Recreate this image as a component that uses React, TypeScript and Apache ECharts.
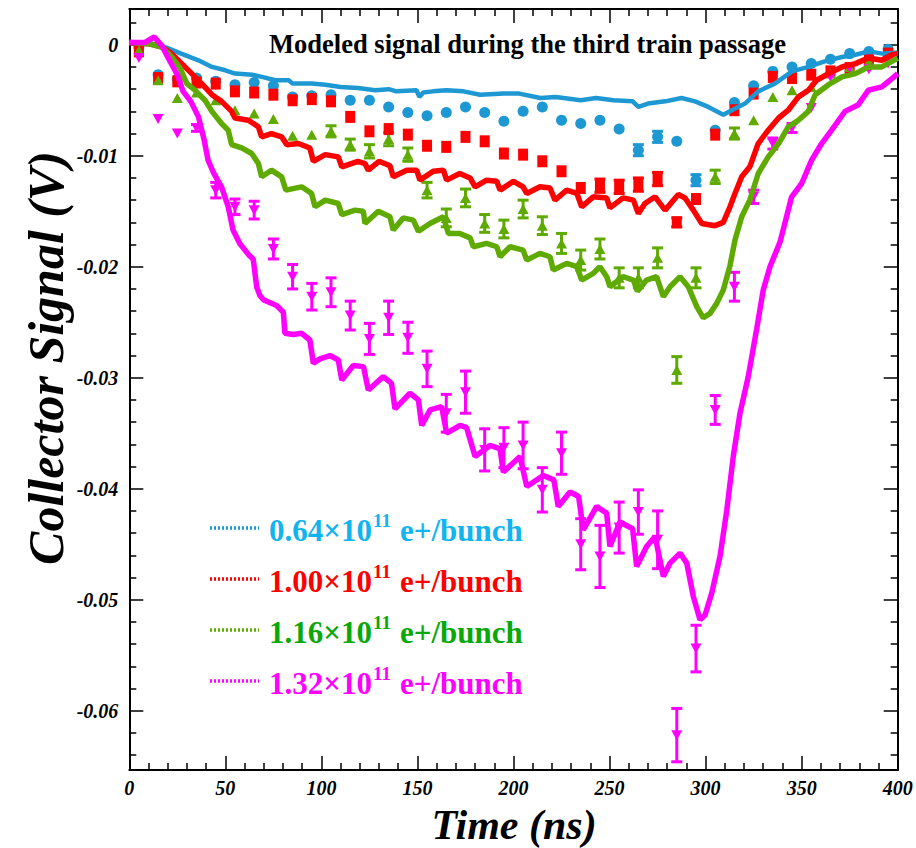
import React, { useEffect, useRef } from 'react';
import * as echarts from 'echarts';

// ---------- data ----------
const markerTimes = [5, 15, 25, 35, 45, 55, 65, 75, 85, 95, 105, 115, 125, 135, 145, 155, 165, 175, 185, 195,
  205, 215, 225, 235, 245, 255, 265, 275, 285, 295, 305, 315, 325, 335, 345, 355, 365, 375, 385, 395];

const blueMarkers = [-0.0002, -0.0027, -0.0031, -0.0030, -0.0033, -0.0036, -0.0034, -0.0037, -0.0047, -0.0046,
  -0.0045, -0.0050, -0.0050, -0.0056, -0.0061, -0.0064, -0.0061, -0.0056, -0.0061, -0.0069,
  -0.0060, -0.0056, -0.0068, -0.0071, -0.0068, -0.0076, -0.0095, -0.0083, -0.0087, -0.0122,
  -0.0077, -0.0052, -0.0037, -0.0024, -0.0020, -0.0017, -0.0013, -0.0008, -0.0006, -0.0004];
const blueErrors = [0, 0, 0, 0, 0, 0, 0, 0, 0, 0, 0, 0, 0, 0, 0, 0, 0, 0, 0, 0,
  0, 0, 0, 0, 0, 0, 0.0005, 0.0005, 0, 0.0005, 0, 0, 0, 0, 0, 0, 0, 0, 0, 0];

const redMarkers = [-0.0006, -0.0030, -0.0033, -0.0034, -0.0035, -0.0042, -0.0043, -0.0045, -0.0050, -0.0049,
  -0.0051, -0.0065, -0.0078, -0.0076, -0.0081, -0.0091, -0.0092, -0.0083, -0.0087, -0.0098,
  -0.0099, -0.0105, -0.0114, -0.0129, -0.0127, -0.0128, -0.0126, -0.0121, -0.0160, -0.0139,
  -0.0081, -0.0059, -0.0044, -0.0029, -0.0030, -0.0027, -0.0024, -0.0021, -0.0014, -0.0008];
const redErrors = [0, 0, 0, 0, 0, 0, 0, 0, 0, 0, 0, 0, 0, 0, 0, 0, 0, 0, 0, 0,
  0, 0, 0, 0, 0.0006, 0.0006, 0.0006, 0.0006, 0.0004, 0, 0, 0, 0, 0, 0, 0, 0, 0, 0, 0];

const greenMarkers = [-0.0005, -0.0032, -0.0048, -0.0043, -0.0050, -0.0059, -0.0062, -0.0067, -0.0082, -0.0081,
  -0.0078, -0.0090, -0.0096, -0.0085, -0.0099, -0.0131, -0.0156, -0.0138, -0.0161, -0.0166,
  -0.0148, -0.0163, -0.0179, -0.0194, -0.0184, -0.0210, -0.0210, -0.0192, -0.0293, -0.0210,
  -0.0119, -0.0080, -0.0068, -0.0047, -0.0041, -0.0038, -0.0026, -0.0020, -0.0015, -0.0011];
const greenErrors = [0, 0, 0, 0, 0, 0, 0, 0, 0, 0,
  0.0005, 0.0005, 0.0006, 0.0006, 0.0006, 0.0007, 0.0008, 0.0008, 0.0008, 0.0008,
  0.0008, 0.0008, 0.0009, 0.0009, 0.0009, 0.0009, 0.0009, 0.0009, 0.0012, 0.0009,
  0.0006, 0.0005, 0, 0, 0, 0, 0, 0, 0, 0];

const magentaMarkers = [-0.0012, -0.0067, -0.0080, -0.0075, -0.0131, -0.0146, -0.0149, -0.0184, -0.0209, -0.0227,
  -0.0223, -0.0244, -0.0265, -0.0246, -0.0264, -0.0292, -0.0332, -0.0313, -0.0365, -0.0363,
  -0.0361, -0.0401, -0.0368, -0.0450, -0.0461, -0.0435, -0.0421, -0.0446, -0.0622, -0.0544,
  -0.0329, -0.0218, -0.0137, -0.0089, -0.0075, -0.0057, -0.0029, -0.0021, -0.0022, -0.0017];
const magentaErrors = [0, 0, 0, 0.0003, 0.0007, 0.0007, 0.0008, 0.0009, 0.0011, 0.0012,
  0.0013, 0.0013, 0.0014, 0.0015, 0.0014, 0.0016, 0.0017, 0.0019, 0.0019, 0.0018,
  0.0021, 0.0020, 0.0019, 0.0023, 0.0028, 0.0023, 0.0020, 0.0026, 0.0024, 0.0021,
  0.0013, 0.0013, 0.0006, 0.0005, 0.0004, 0, 0, 0, 0, 0];

const blueLine = [[0, 0.0002], [8, 0.0002], [15, 0.0000], [20, -0.0003], [27, -0.0008], [36, -0.0014], [43, -0.0020],
  [50, -0.0023], [55, -0.0026], [64, -0.0027], [69, -0.0029], [76, -0.0032], [83, -0.0032], [85, -0.0035],
  [95, -0.0035], [102, -0.0036], [110, -0.0038], [119, -0.0039], [128, -0.0041], [135, -0.0040], [139, -0.0042],
  [149.5, -0.0041], [151, -0.0047], [153, -0.0043], [158, -0.0042], [165, -0.0041], [174, -0.0042],
  [182.6, -0.0045], [195, -0.0044], [203, -0.0044], [214, -0.0048], [222, -0.0047], [235, -0.0050],
  [243, -0.0048], [252, -0.0050], [262, -0.0051], [265, -0.0056], [270, -0.0053], [279, -0.0051],
  [287.5, -0.0048], [294.5, -0.0051], [301.4, -0.0056], [309.2, -0.0063], [313.6, -0.0059], [320.5, -0.0053],
  [327.4, -0.0042], [336, -0.0035], [345, -0.0024], [353.5, -0.0020], [362, -0.0015], [371, -0.0011],
  [378, -0.0009], [385, -0.0006], [392, -0.0008], [400, -0.0007]];

const redLine = [[0, 0.0002], [10, 0.0001], [17, -0.0002], [22, -0.0008], [27.3, -0.0017], [32.5, -0.0026],
  [37.7, -0.0035], [43, -0.0045], [48, -0.0051], [53.3, -0.0060], [55, -0.0066], [62, -0.0068], [67.2, -0.0074],
  [68.9, -0.0083], [74, -0.0080], [79.3, -0.0083], [82, -0.0090], [88, -0.0089], [94, -0.0093], [95.8, -0.0105],
  [102, -0.0099], [108.8, -0.0101], [110.6, -0.0110], [119, -0.0105], [122.7, -0.0107], [124.4, -0.0113],
  [130, -0.0105], [135.7, -0.0109], [137.4, -0.0119], [144.4, -0.0113], [149.6, -0.0113], [151.3, -0.0122],
  [158.2, -0.0114], [163.5, -0.0113], [165.2, -0.0122], [172, -0.0116], [177.4, -0.0120], [180, -0.0128],
  [186, -0.0122], [191.3, -0.0123], [193, -0.0131], [200, -0.0123], [205, -0.0128], [206.9, -0.0134],
  [213.8, -0.0128], [219, -0.0129], [221.6, -0.0140], [227.7, -0.0131], [233, -0.0134], [235.5, -0.0146],
  [241.5, -0.0137], [248.5, -0.0138], [250.2, -0.0147], [257, -0.0138], [262.4, -0.0140], [265, -0.0152],
  [268.4, -0.0143], [273.7, -0.0137], [278.9, -0.0149], [285.8, -0.0135], [289.3, -0.0138], [293.6, -0.0149],
  [298, -0.0161], [304.9, -0.0163], [309.2, -0.0160], [312.7, -0.0146], [315.3, -0.0134], [318.8, -0.0119],
  [323, -0.0110], [327.4, -0.0089], [332.6, -0.0077], [338, -0.0066], [343, -0.0059], [348.3, -0.0047],
  [353.5, -0.0041], [357.8, -0.0032], [364, -0.0026], [371, -0.0020], [378, -0.0017], [384.7, -0.0012],
  [391.7, -0.0014], [397, -0.0009], [400, -0.0008]];

const greenLine = [[0, 0.0002], [10, 0.0001], [17, -0.0002], [22, -0.0011], [26.4, -0.0021], [30, -0.0035],
  [34.2, -0.0041], [39.4, -0.0050], [43, -0.0060], [48, -0.0071], [51.5, -0.0077], [53.3, -0.0090],
  [58.5, -0.0093], [63.7, -0.0098], [67.2, -0.0107], [68.9, -0.0119], [74, -0.0113], [79.3, -0.0119],
  [81.5, -0.0131], [89.7, -0.0128], [94.9, -0.0134], [96.7, -0.0146], [102, -0.0140], [108.8, -0.0143],
  [110.6, -0.0153], [117.5, -0.0149], [121.8, -0.0150], [122.7, -0.0161], [129.6, -0.0150], [135.7, -0.0155],
  [137.4, -0.0167], [142.6, -0.0156], [147.8, -0.0158], [150.5, -0.0168], [156.5, -0.0161], [163.5, -0.0155],
  [166.1, -0.0170], [172, -0.0170], [177.4, -0.0174], [179.1, -0.0182], [186, -0.0179], [191.3, -0.0182],
  [193, -0.0191], [198.2, -0.0182], [205, -0.0185], [206.9, -0.0194], [213.8, -0.0188], [219, -0.0191],
  [220.7, -0.0203], [227.7, -0.0197], [233, -0.0200], [235.5, -0.0212], [241.5, -0.0206], [245, -0.0200],
  [248.5, -0.0209], [250.2, -0.0218], [257, -0.0209], [262.4, -0.0212], [264.5, -0.0222], [269.3, -0.0212],
  [274.5, -0.0209], [278, -0.0227], [281.5, -0.0218], [286.7, -0.0209], [291, -0.0218], [295.4, -0.0236],
  [298.8, -0.0246], [302.3, -0.0242], [305.8, -0.0233], [309.2, -0.0221], [312.7, -0.0199], [315.3, -0.0176],
  [318.8, -0.0155], [323, -0.0140], [327.4, -0.0116], [332.6, -0.0101], [338, -0.0089], [343, -0.0074],
  [348.3, -0.0068], [353.5, -0.0060], [357, -0.0045], [364, -0.0036], [371, -0.0029], [378, -0.0026],
  [384.7, -0.0020], [391.7, -0.0020], [397, -0.0015], [400, -0.0012]];

const magentaLine = [[0, 0.0002], [8, 0.0002], [13, 0.0007], [17, -0.0001], [20, -0.0011], [25, -0.0027],
  [28, -0.0042], [32, -0.0051], [36, -0.0065], [39, -0.0086], [41, -0.0104], [44, -0.0116], [48, -0.0128],
  [51.5, -0.0146], [54, -0.0167], [57.5, -0.0179], [62.5, -0.0190], [64.5, -0.0193], [66.3, -0.0218],
  [68, -0.0226], [70, -0.0230], [76.7, -0.0235], [80.2, -0.0241], [81, -0.0260], [85.4, -0.0261],
  [89.7, -0.0260], [94, -0.0266], [95.8, -0.0287], [99.2, -0.0283], [104.5, -0.0280], [108.8, -0.0284],
  [110.6, -0.0302], [116.6, -0.0289], [121.9, -0.0290], [124.4, -0.0311], [132.2, -0.0299], [136.5, -0.0305],
  [138.3, -0.0328], [146.1, -0.0314], [150.5, -0.0320], [152.2, -0.0343], [156.6, -0.0329], [162.6, -0.0326],
  [165.2, -0.0350], [172.2, -0.0343], [175.6, -0.0345], [180, -0.0371], [187.8, -0.0361], [193, -0.0364],
  [194.7, -0.0385], [203.4, -0.0371], [206.9, -0.0398], [215.5, -0.0388], [221, -0.0392], [223.3, -0.0416],
  [229.4, -0.0403], [233.9, -0.0407], [236.3, -0.0437], [243.3, -0.0416], [248.5, -0.0422], [250.2, -0.0452],
  [255.4, -0.0430], [262, -0.0436], [264.1, -0.0470], [269.3, -0.0452], [273.7, -0.0443], [278, -0.0479],
  [281.5, -0.0467], [286.7, -0.0458], [290.2, -0.0467], [293.6, -0.0497], [297.1, -0.0518], [299.7, -0.0514],
  [303.2, -0.0494], [307.5, -0.0461], [311, -0.0420], [314.4, -0.0371], [317.9, -0.0332], [322.2, -0.0299],
  [326.6, -0.0256], [330, -0.0221], [333.5, -0.0200], [338.7, -0.0178], [344.8, -0.0137], [350, -0.0125],
  [355.2, -0.0104], [360.4, -0.0089], [365.6, -0.0077], [372.6, -0.0060], [379.5, -0.0054], [384.7, -0.0041],
  [391.7, -0.0038], [396, -0.0032], [400, -0.0026]];

const yTickValues = [0, -0.01, -0.02, -0.03, -0.04, -0.05, -0.06];
const yTickLabels = ['0', '-0.01', '-0.02', '-0.03', '-0.04', '-0.05', '-0.06'];
const legendMantissas = ['0.64', '1.00', '1.16', '1.32'];
const legendExponent = '11';
const legendUnit = 'e+/bunch';
const titleText = 'Modeled signal during the third train passage';
const xTitle = 'Time (ns)';
const yTitle = 'Collector Signal (V)';

// ---------- style ----------
const FONT = "'Liberation Serif', 'Times New Roman', serif";
const X_MIN = 0, X_MAX = 400;
const Y_MIN = -0.06534, Y_MAX = 0.00322;
const lineColors = ['#1E98D2', '#FF0000', '#5FAA00', '#FF00FF'];
const legendTextColors = ['#12B4F0', '#FF0000', '#0AA80A', '#FF00FF'];

const yMinorTicks: number[] = [];
for (let k = -32; k <= 1; k++) if (k % 5 !== 0) yMinorTicks.push(+(k * 0.002).toFixed(4));

function errorBars(vals: number[], errs: number[], color: string) {
  const data = markerTimes.map((t, i) => [t, vals[i], errs[i]]).filter((d) => d[2] > 0);
  return {
    type: 'custom',
    data,
    encode: { x: 0, y: 1 },
    silent: true,
    renderItem: (params: any, api: any) => {
      const x = api.value(0), y = api.value(1), e = api.value(2);
      const p1 = api.coord([x, y + e]);
      const p2 = api.coord([x, y - e]);
      const hw = 5.5;
      const style = { stroke: color, lineWidth: 3 };
      return {
        type: 'group',
        children: [
          { type: 'line', shape: { x1: p1[0], y1: p1[1], x2: p2[0], y2: p2[1] }, style },
          { type: 'line', shape: { x1: p1[0] - hw, y1: p1[1], x2: p1[0] + hw, y2: p1[1] }, style },
          { type: 'line', shape: { x1: p2[0] - hw, y1: p2[1], x2: p2[0] + hw, y2: p2[1] }, style },
        ],
      };
    },
  };
}

function markers(vals: number[], color: string, symbol: string, size: any, rotate = 0) {
  return {
    type: 'scatter',
    data: markerTimes.map((t, i) => [t, vals[i]]),
    symbol,
    symbolSize: size,
    symbolRotate: rotate,
    itemStyle: { color, opacity: 1 },
    silent: true,
  };
}

function line(data: number[][], color: string, width: number) {
  return {
    type: 'line',
    data,
    showSymbol: false,
    symbol: 'none',
    lineStyle: { color, width },
    itemStyle: { color },
    silent: true,
  };
}

const axisLineStyle = { color: '#000', width: 2 };
const tickStyle = { color: '#000', width: 1.5 };
const labelStyle = { fontFamily: FONT, fontStyle: 'italic', fontWeight: 'bold', fontSize: 20, color: '#000' };

function xAxisDef(position: 'bottom' | 'top') {
  return {
    type: 'value', min: X_MIN, max: X_MAX, interval: 50, position,
    axisLine: { show: true, onZero: false, lineStyle: axisLineStyle },
    axisTick: { show: true, inside: true, length: 14, lineStyle: tickStyle },
    minorTick: { show: true, splitNumber: 5, length: 7, lineStyle: tickStyle },
    axisLabel: position === 'bottom' ? { ...labelStyle, margin: 8, showMinLabel: true, showMaxLabel: true } : { show: false },
    splitLine: { show: false },
    minorSplitLine: { show: false },
  };
}

function yAxisDef(position: 'left' | 'right', major: boolean) {
  return {
    type: 'value', min: Y_MIN, max: Y_MAX, position,
    axisLine: { show: major, onZero: false, lineStyle: axisLineStyle },
    axisTick: {
      show: true, inside: true, length: major ? 14 : 7, lineStyle: tickStyle,
      customValues: major ? yTickValues : yMinorTicks,
    },
    axisLabel: major && position === 'left'
      ? {
          ...labelStyle, margin: 11, customValues: yTickValues,
          formatter: (v: number) => {
            let best = 0;
            yTickValues.forEach((tv, i) => { if (Math.abs(tv - v) < Math.abs(yTickValues[best] - v)) best = i; });
            return yTickLabels[best];
          },
        }
      : { show: false },
    splitLine: { show: false },
  };
}

export default function App() {
  const ref = useRef<HTMLDivElement>(null);
  useEffect(() => {
    if (!ref.current) return;
    const chart = echarts.init(ref.current, null, { renderer: 'svg' });
    const legendRowsY = [530, 581, 632, 683];
    const legendGraphics: any[] = [];
    legendMantissas.forEach((m, i) => {
      const y = legendRowsY[i];
      legendGraphics.push({
        type: 'line', shape: { x1: 210, y1: y - 2, x2: 259, y2: y - 2 },
        style: { stroke: lineColors[i], lineWidth: 3.5, lineDash: [2, 2] }, z: 10,
      });
      legendGraphics.push({
        type: 'text', x: 269, y, z: 10,
        style: { text: m + '×10', fill: legendTextColors[i], fontFamily: FONT, fontWeight: 'bold', fontSize: 31, align: 'left', verticalAlign: 'middle' },
      });
      legendGraphics.push({
        type: 'text', x: 373, y: y - 10, z: 10,
        style: { text: legendExponent, fill: legendTextColors[i], fontFamily: FONT, fontWeight: 'bold', fontSize: 19, align: 'left', verticalAlign: 'middle' },
      });
      legendGraphics.push({
        type: 'text', x: 400, y, z: 10,
        style: { text: legendUnit, fill: legendTextColors[i], fontFamily: FONT, fontWeight: 'bold', fontSize: 31, align: 'left', verticalAlign: 'middle' },
      });
    });

    chart.setOption({
      animation: false,
      backgroundColor: '#ffffff',
      grid: { left: 129.3, right: 18.3, top: 9, bottom: 78, containLabel: false, outerBoundsMode: 'none' },
      xAxis: [xAxisDef('bottom'), xAxisDef('top')],
      yAxis: [yAxisDef('left', true), yAxisDef('left', false), yAxisDef('right', true), yAxisDef('right', false)],
      graphic: [
        {
          type: 'text', x: 527.5, y: 44, z: 10,
          style: { text: titleText, fill: '#000', fontFamily: FONT, fontWeight: 'bold', fontSize: 26.5, align: 'center', verticalAlign: 'middle' },
        },
        {
          type: 'text', x: 514, y: 825, z: 10,
          style: { text: xTitle, fill: '#000', fontFamily: FONT, fontWeight: 'bold', fontStyle: 'italic', fontSize: 42, lineHeight: 40, align: 'center', verticalAlign: 'middle' },
        },
        {
          type: 'text', x: 46, y: 358, rotation: Math.PI / 2, z: 10,
          style: { text: yTitle, fill: '#000', fontFamily: FONT, fontWeight: 'bold', fontStyle: 'italic', fontSize: 50, align: 'center', verticalAlign: 'middle' },
        },
        ...legendGraphics,
      ],
      series: [
        errorBars(blueMarkers, blueErrors, lineColors[0]),
        errorBars(redMarkers, redErrors, lineColors[1]),
        errorBars(greenMarkers, greenErrors, lineColors[2]),
        errorBars(magentaMarkers, magentaErrors, lineColors[3]),
        markers(blueMarkers, lineColors[0], 'circle', 11),
        markers(redMarkers, lineColors[1], 'rect', [10, 12]),
        markers(greenMarkers, lineColors[2], 'triangle', [11, 10]),
        markers(magentaMarkers, lineColors[3], 'triangle', [11, 10], 180),
        line(blueLine, lineColors[0], 4.5),
        line(redLine, lineColors[1], 5.5),
        line(greenLine, lineColors[2], 5.5),
        line(magentaLine, lineColors[3], 5.5),
      ],
    } as any);
    return () => chart.dispose();
  }, []);
  return <div ref={ref} style={{ position: 'fixed', left: 0, top: 0, width: 916, height: 848, background: '#fff' }} />;
}
